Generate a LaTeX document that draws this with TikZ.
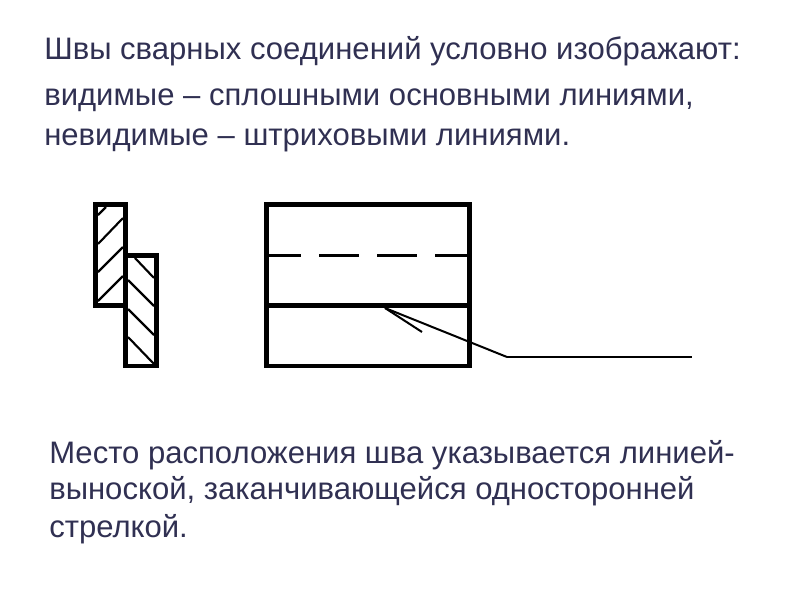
\documentclass[tikz,border=0pt]{standalone}
\usepackage{fontspec}
\setmainfont{Liberation Sans}
\usepackage{tikz}
\definecolor{slidetext}{RGB}{48,48,82}
\pgfdeclarelayer{edgelayer}
\pgfdeclarelayer{nodelayer}
\pgfsetlayers{edgelayer,nodelayer,main}
\tikzstyle{none}=[inner sep=0pt]
\tikzstyle{caption}=[inner sep=0pt,anchor=base west,text=slidetext,font=\fontsize{23.3pt}{27pt}\selectfont]
\tikzstyle{contour}=[draw=black,line width=3.5pt,line join=miter]
\tikzstyle{hatching}=[draw=black,line width=1.6pt]
\tikzstyle{hidden}=[draw=black,line width=2.4pt]
\tikzstyle{leader}=[draw=black,line width=1.5pt]
\tikzstyle{shelf}=[draw=black,line width=2pt]

\begin{document}
\begin{tikzpicture}[x=0.75pt,y=-0.75pt]
	\useasboundingbox (0,0) rectangle (800,600);
	\begin{pgfonlayer}{nodelayer}
		\node [style=caption] (0) at (44, 59) {Швы сварных соединений условно изображают:};
		\node [style=caption] (1) at (44, 105) {видимые – сплошными основными линиями,};
		\node [style=caption] (2) at (44, 145) {невидимые – штриховыми линиями.};
		\node [style=caption] (3) at (49, 463) {Место расположения шва указывается линией-};
		\node [style=caption] (4) at (49, 499) {выноской, заканчивающейся односторонней};
		\node [style=caption] (5) at (49, 537) {стрелкой.};
		\coordinate (6) at (385, 308);
		\coordinate (7) at (507, 357);
		\coordinate (8) at (692, 357);
		\coordinate (9) at (422, 332);
	\end{pgfonlayer}
	\begin{pgfonlayer}{edgelayer}
		\draw [style=contour] (95.5, 204.5) rectangle (125.5, 305.5);
		\draw [style=contour] (125.5, 255.5) rectangle (156.5, 366);
		\draw [style=contour] (266.5, 204.5) rectangle (469.5, 366);
		\draw [style=contour] (266.5, 305.5) -- (469.5, 305.5);
		\draw [style=hatching] (98, 215) -- (106, 207);
		\foreach \y/\z in {244/218, 272/247, 301/276}
			\draw [style=hatching] (98, \y) -- (123, \z);
		\draw [style=hatching] (135, 258) -- (154, 278);
		\foreach \y/\z in {280/306, 309/335, 337/364}
			\draw [style=hatching] (128, \y) -- (154, \z);
		\foreach \a/\b in {269/301, 319/359, 377/417, 435/467}
			\draw [style=hidden] (\a, 255.3) -- (\b, 255.3);
		\draw [style=leader] (6) -- (7);
		\draw [style=shelf] (7) -- (8);
		\draw [style=leader] (6) -- (9);
	\end{pgfonlayer}
\end{tikzpicture}
\end{document}
